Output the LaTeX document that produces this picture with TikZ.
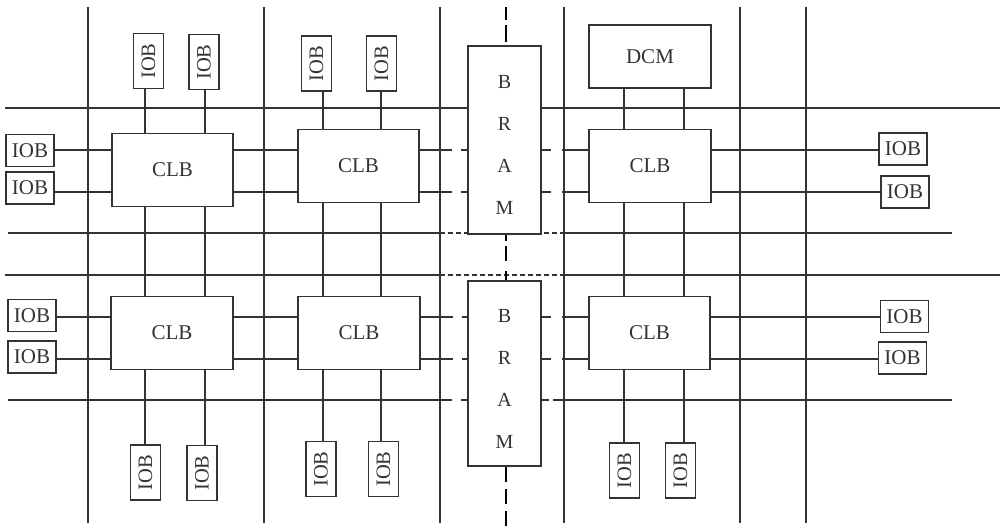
\documentclass[tikz,border=0pt]{standalone}
\usepackage{fontspec}
\setmainfont{Liberation Serif}
\usepackage{tikz}
\usetikzlibrary{calc}
\tikzset{
  unit/.style={draw, line width=1.7pt, fill=white, inner sep=0pt, font=\fontsize{21}{24}\selectfont},
  clb/.style={unit, minimum width=121pt, minimum height=73pt},
  iob/.style={unit, minimum width=48pt, minimum height=32pt, font=\fontsize{21}{24}\selectfont},
  iobv/.style={unit, minimum width=30pt, minimum height=55pt, font=\fontsize{20.5}{24}\selectfont},
  bram/.style={unit, minimum width=73pt},
  wire/.style={line width=1.3pt},
  tobram/.style={wire, dash pattern=on 32pt off 9pt on 30pt},
  frombram/.style={wire, dash pattern=on 9pt off 11pt on 60pt},
  split/.style={wire, dash pattern=on 5pt off 3pt},
  axis/.style={line width=2pt, black}
}
\begin{document}
\begin{tikzpicture}[x=1pt, y=-1pt, color=black!80]
  \useasboundingbox (0,0) rectangle (1002,526);
  \foreach \x in {88,264,440,564,740,806}{\draw[wire] (\x,7) -- (\x,523);}
  \draw[wire] (5,108) -- (1000,108);
  \draw[wire] (8,233) -- (440,233) (564,233) -- (952,233);
  \draw[split] (440,233) -- (564,233);
  \draw[wire] (5,275) -- (440,275) (564,275) -- (1000,275);
  \draw[split] (440,275) -- (564,275);
  \draw[wire, dash pattern=on 444pt off 9pt on 30pt] (8,400) -- (468,400);
  \draw[wire, dash pattern=on 8pt off 4pt on 500pt] (541,400) -- (952,400);

  \node[clb] (clbA) at (172.5,170) {CLB};
  \node[clb] (clbB) at (358.5,166) {CLB};
  \node[clb, minimum width=122pt] (clbC) at (650,166) {CLB};
  \node[clb, minimum width=122pt] (clbD) at (172,333) {CLB};
  \node[clb, minimum width=122pt] (clbE) at (359,333) {CLB};
  \node[clb] (clbF) at (649.5,333) {CLB};
  \node[unit, minimum width=122pt, minimum height=63pt] (dcm) at (650,56.5) {DCM};
  \node[bram, minimum height=188pt, label={[yshift=-5pt, align=center, font=\fontsize{20}{41.7}\selectfont]center:B\\R\\A\\M}] (bramT) at (504.5,140) {};
  \node[bram, minimum height=185pt, label={[yshift=-5.5pt, align=center, font=\fontsize{20}{41.7}\selectfont]center:B\\R\\A\\M}] (bramB) at (504.5,373.5) {};

  \node[iob] (iobL1) at (30,150.5) {IOB};
  \node[iob] (iobL2) at (30,188) {IOB};
  \node[iob] (iobL3) at (32,315.5) {IOB};
  \node[iob] (iobL4) at (32,357) {IOB};
  \node[iob] (iobR1) at (903,149) {IOB};
  \node[iob] (iobR2) at (905,192) {IOB};
  \node[iob] (iobR3) at (904.5,316.5) {IOB};
  \node[iob] (iobR4) at (902.5,358) {IOB};

  \node[iobv] (iobT1) at (148.5,61) {\rotatebox{90}{IOB}};
  \node[iobv] (iobT2) at (204,62) {\rotatebox{90}{IOB}};
  \node[iobv] (iobT3) at (316.5,63.5) {\rotatebox{90}{IOB}};
  \node[iobv] (iobT4) at (381.5,63.5) {\rotatebox{90}{IOB}};
  \node[iobv] (iobB1) at (145.5,472.5) {\rotatebox{90}{IOB}};
  \node[iobv] (iobB2) at (202,473) {\rotatebox{90}{IOB}};
  \node[iobv] (iobB3) at (321,469) {\rotatebox{90}{IOB}};
  \node[iobv] (iobB4) at (383.5,469) {\rotatebox{90}{IOB}};
  \node[iobv] (iobB5) at (624.5,470.5) {\rotatebox{90}{IOB}};
  \node[iobv] (iobB6) at (680.5,470.5) {\rotatebox{90}{IOB}};

  \coordinate (cA) at (145,0); \coordinate (cB) at (205,0);
  \coordinate (cC) at (323,0); \coordinate (cD) at (381,0);
  \coordinate (cE) at (624,0); \coordinate (cF) at (684,0);
  \coordinate (r1) at (0,150); \coordinate (r2) at (0,192);
  \coordinate (r3) at (0,317); \coordinate (r4) at (0,359);
  \coordinate (top) at (505.5,7); \coordinate (bottom) at (505.5,526);

  \foreach \c/\a/\b in {cA/iobT1/clbA,cA/clbA/clbD,cA/clbD/iobB1,cB/iobT2/clbA,cB/clbA/clbD,cB/clbD/iobB2,
    cC/iobT3/clbB,cC/clbB/clbE,cC/clbE/iobB3,cD/iobT4/clbB,cD/clbB/clbE,cD/clbE/iobB4,
    cE/dcm/clbC,cE/clbC/clbF,cE/clbF/iobB5,cF/dcm/clbC,cF/clbC/clbF,cF/clbF/iobB6}
    {\draw[wire] (\a.south -| \c) -- (\b.north -| \c);}
  \foreach \r/\a/\b in {r1/iobL1/clbA,r1/clbA/clbB,r1/clbC/iobR1,r2/iobL2/clbA,r2/clbA/clbB,r2/clbC/iobR2,
    r3/iobL3/clbD,r3/clbD/clbE,r3/clbF/iobR3,r4/iobL4/clbD,r4/clbD/clbE,r4/clbF/iobR4}
    {\draw[wire] (\a.east |- \r) -- (\b.west |- \r);}
  \foreach \r/\a/\b/\c in {r1/clbB/bramT/clbC,r2/clbB/bramT/clbC,r3/clbE/bramB/clbF,r4/clbE/bramB/clbF}
    {\draw[tobram] (\a.east |- \r) -- (\b.west |- \r);
     \draw[frombram] (\b.east |- \r) -- (\c.west |- \r);}
  \draw[axis, dash pattern=on 13pt off 5pt on 17pt off 10pt] (top) -- (top |- bramT.north);
  \draw[axis, dash pattern=on 6pt off 5pt on 15pt off 10pt on 20pt] (top |- bramT.south) -- (top |- bramB.north);
  \draw[axis, dash pattern=on 15pt off 7pt] (top |- bramB.south) -- (bottom);
\end{tikzpicture}
\end{document}
